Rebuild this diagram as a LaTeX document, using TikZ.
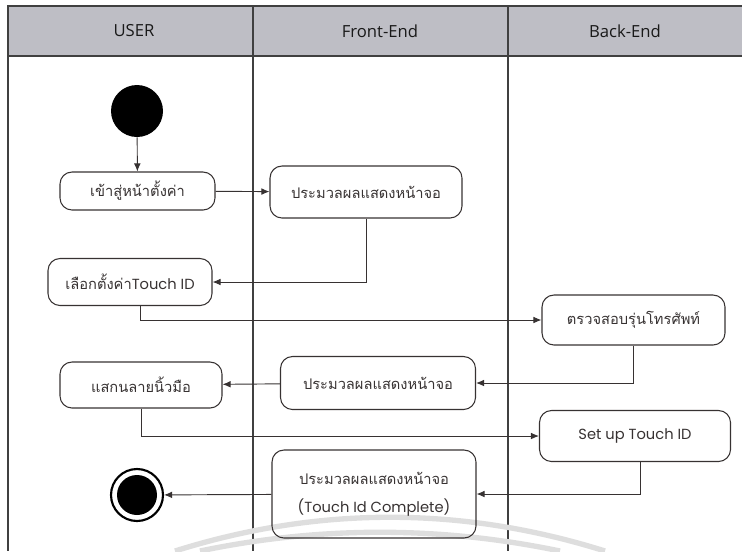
\documentclass[tikz,border=0pt]{standalone}
\usepackage{fontspec}
\usetikzlibrary{arrows.meta,calc}
\newfontfamily\thaifont[Script=Thai]{Loma}
\newfontfamily\latinfont{Poppins}
\newfontfamily\headfont{Open Sans}
\newcommand{\lat}[1]{{\latinfont\fontsize{11}{15}\selectfont #1}}
\definecolor{lanehead}{RGB}{190,190,197}
\definecolor{ink}{RGB}{55,50,50}

\begin{document}
\begin{tikzpicture}[x=0.75pt,y=-0.75pt,
  act/.style={draw=ink,rectangle,rounded corners=9pt,line width=0.8pt,text=ink,font=\thaifont\fontsize{11}{15}\selectfont,align=center,inner sep=0pt},
  sz/.style 2 args={minimum width=#1*0.75pt,minimum height=#2*0.75pt},
  lane/.style={draw=black!75,line width=0.8pt},
  flow/.style={draw=ink,line width=0.7pt,-{Latex[length=6pt,width=5pt]}},
  headtext/.style={font=\headfont\fontsize{12.5}{14}\selectfont,text=black!90}]

  \useasboundingbox (0,0) rectangle (742,551);

  % swimlanes
  \fill[lanehead] (8,6) rectangle (742,56);
  \draw[lane] (742,6) -- (8,6) -- (8,551);
  \draw[lane] (8,56) -- (742,56);
  \draw[lane] (253,6) -- (253,551);
  \draw[lane] (508,6) -- (508,551);
  \node[headtext] (huser) at (134,31) {USER};
  \node[headtext] (hfront) at (380,31) {Front-End};
  \node[headtext] (hback) at (625,31) {Back-End};

  % watermark arcs
  \draw[black!13,line width=4pt] (175,551) .. controls (318,506) and (462,506) .. (605,551);
  \draw[black!13,line width=4pt] (200,551) .. controls (320,526) and (440,526) .. (560,551);

  \node[circle,fill=black,sz={52}{52},inner sep=0pt] (start) at (137,111) {};
  \node[act,sz={155}{38}] (enter) at (137.5,191) {เข้าสู่หน้าตั้งค่า};
  \node[act,sz={192}{52}] (show1) at (366,192) {ประมวลผลแสดงหน้าจอ};
  \node[act,sz={164}{47}] (choose) at (130,282) {เลือกตั้งค่า\lat{Touch ID}};
  \node[act,sz={183}{50}] (check) at (633.5,320) {ตรวจสอบรุ่นโทรศัพท์};
  \node[act,sz={195}{53}] (show2) at (378,383) {ประมวลผลแสดงหน้าจอ};
  \node[act,sz={162}{46}] (scan) at (141,385) {แสกนลายนิ้วมือ};
  \node[act,sz={191}{51}] (setup) at (635,436) {\lat{Set up Touch ID}};
  \node[act,sz={204}{88}] (show3) at (374,494) {ประมวลผลแสดงหน้าจอ\\[6pt]\lat{(Touch Id Complete)}};
  \node[circle,draw=black,line width=1.6pt,sz={52}{52},inner sep=0pt] (stop) at (137,495) {};
  \node[circle,fill=black,sz={40}{40},inner sep=0pt] (stopdot) at (stop) {};

  \draw[flow] (start) -- (enter);
  \draw[flow] (enter) -- (show1);
  \draw[flow] (show1.south) |- (choose.east);
  \draw[flow] ([xshift=7.5pt]choose.south) |- (check.west);
  \draw[flow] (check.south) |- (show2.east);
  \draw[flow] (show2) -- (scan);
  \draw[flow] (scan.south) |- (setup.west);
  \draw[flow] ([xshift=4pt]setup.south) |- (show3.east);
  \draw[flow] (show3) -- (stop);
\end{tikzpicture}
\end{document}
